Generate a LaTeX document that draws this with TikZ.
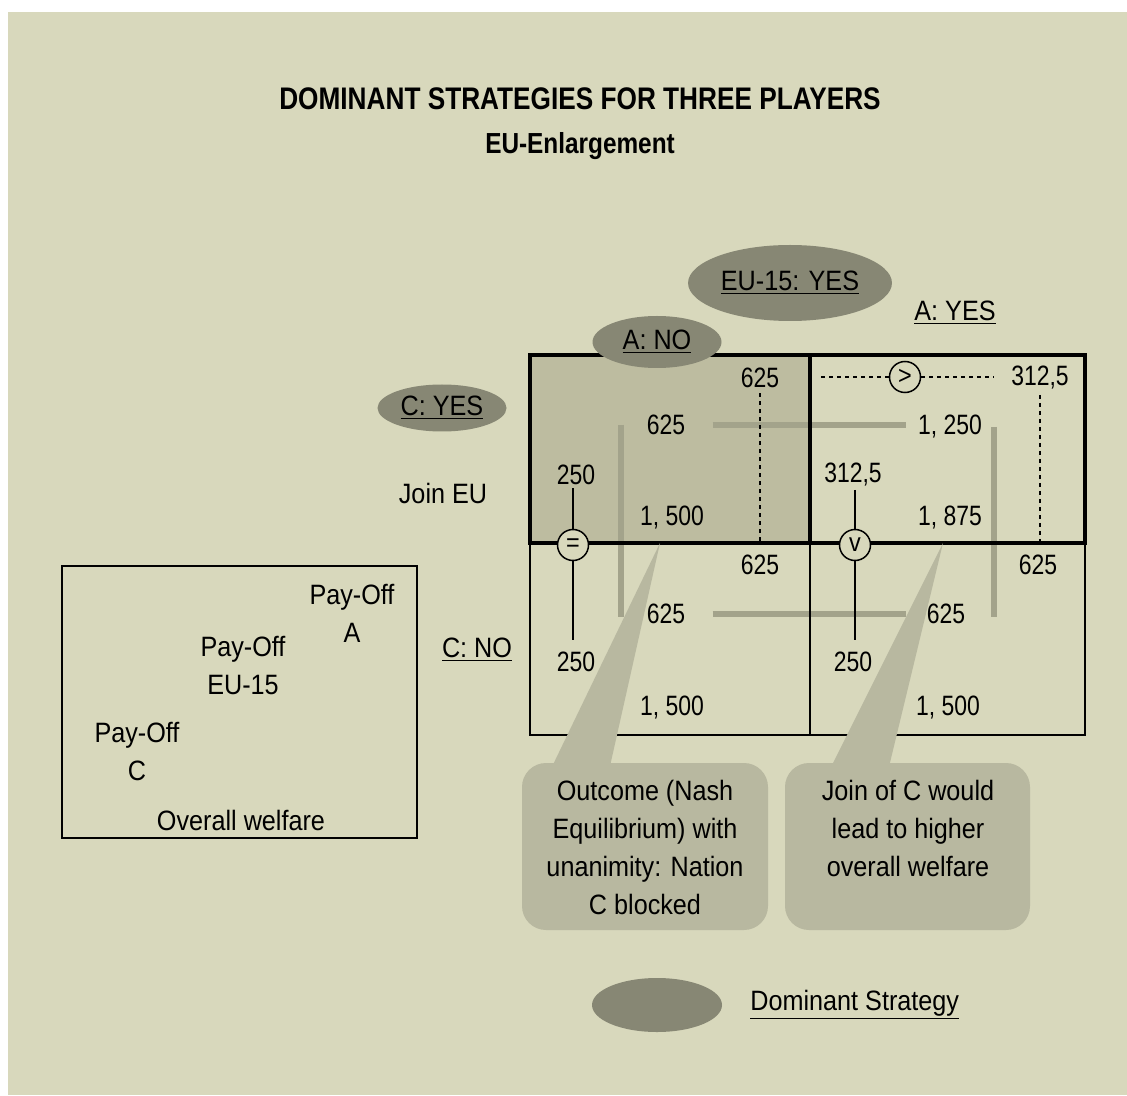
\documentclass[tikz,border=0pt]{standalone}
\usepackage{fontspec}
\setmainfont{Liberation Sans}[FakeStretch=0.9]
\newfontfamily\numfont{Liberation Sans}[FakeStretch=0.82]
\newfontfamily\headfont{Liberation Sans}[FakeStretch=0.84]
\usetikzlibrary{shapes.geometric,positioning}
\definecolor{bgbeige}{HTML}{D8D8BC}
\definecolor{cellgrey}{HTML}{BDBCA0}
\definecolor{domgrey}{HTML}{878774}
\definecolor{notegrey}{HTML}{B8B8A0}
\definecolor{paygrey}{HTML}{A3A38B}
\tikzset{
  num/.style={font=\numfont\fontsize{14}{17}\selectfont, inner sep=1.5pt},
  txt/.style={font=\fontsize{14}{19}\selectfont, align=center, inner sep=1.5pt},
  dom/.style={ellipse, fill=domgrey, inner sep=0pt, txt},
  notebox/.style={rounded corners=12pt, fill=notegrey, inner sep=0pt},
  pay/.style={line width=3pt, draw=paygrey},
  gridline/.style={line width=0.8pt},
  gridbold/.style={line width=2.2pt},
  cmp/.style={circle, draw, line width=0.75pt, fill=bgbeige, minimum size=15.5pt,
              inner sep=0pt, font=\fontsize{13}{13}\selectfont},
  guide/.style={dash pattern=on 2pt off 2pt, line width=0.75pt},
  cline/.style={line width=0.75pt},
}

\begin{document}
\begin{tikzpicture}[x=0.5pt, y=-0.5pt]
  \useasboundingbox (0,0) rectangle (1127,1095);
  \fill[white] (0,0) rectangle (1127,1095);
  \fill[bgbeige] (8,12) rectangle (1127,1095);

  % title
  \node[font=\headfont\bfseries\fontsize{15.6}{18}\selectfont] (title) at (580,99) {DOMINANT STRATEGIES FOR THREE PLAYERS};
  \node[font=\headfont\bfseries\fontsize{14.5}{17}\selectfont] (sub) at (580,146) {EU-Enlargement};

  % matrix
  \coordinate (mtl) at (530,355);
  \coordinate (mid) at (810,543);
  \coordinate (mbr) at (1085,735);
  \fill[cellgrey] (mtl) rectangle (mid);

  % cell values
  \node[num] (tlA) at (760,378) {625};
  \node[num] (tlE) at (666,425) {625};
  \node[num] (tlC) at (576,475) {250};
  \node[num] (tlW) at (672,518) {1, 500};
  \node[num] (trA) at (1040,378) {312,5};
  \node[num] (trE) at (950,427) {1, 250};
  \node[num] (trC) at (853,475) {312,5};
  \node[num] (trW) at (950,518) {1, 875};
  \node[num] (blA) at (760,565) {625};
  \node[num] (blE) at (666,614) {625};
  \node[num] (blC) at (576,662) {250};
  \node[num] (blW) at (672,708) {1, 500};
  \node[num] (brA) at (1038,565) {625};
  \node[num] (brE) at (946,614) {625};
  \node[num] (brC) at (853,662) {250};
  \node[num] (brW) at (948,708) {1, 500};

  % pay-off comparisons EU-15
  \draw[pay, shorten <=12pt, shorten >=4.5pt] (tlE.east) -- (tlE.east -| trE.west);
  \draw[pay, shorten <=12pt, shorten >=8.5pt] (blE.east) -- (brE.west);
  \draw[pay] ([xshift=-11pt]tlE.west) -- ([xshift=-11pt,yshift=-1.5pt]blE.west);
  \draw[pay] ([xshift=4.5pt]trE.east) -- ([xshift=4.5pt,yshift=-1.5pt]trE.east |- brE);

  % comparison marks
  \node[cmp] (gtc) at (905,377) {>};
  \draw[guide, shorten <=1pt] (tlA.south) -- (tlA.south |- mid);
  \draw[guide, shorten <=1pt] (trA.south) -- (trA.south |- mid);
  \draw[guide, shorten >=4pt] (gtc.west) -- (gtc.west -| mid);
  \draw[guide, shorten >=7pt] (gtc.east) -- (trA.west |- gtc);

  % grid
  \draw[gridline] (mtl |- mid) -- (mtl |- mbr) -- (mbr) -- (mbr |- mid);
  \draw[gridline] (mid) -- (mid |- mbr);
  \draw[gridbold] (mtl) rectangle (mbr |- mid);
  \draw[gridbold] (mid |- mtl) -- (mid);

  % notes
  \node[notebox, minimum width=123pt, minimum height=83.5pt] (nleft) at (645,846.5) {};
  \node[notebox, minimum width=122.5pt, minimum height=83.5pt] (nright) at (907.5,846.5) {};
  \fill[notegrey] (660,543) -- (548,775) -- (608,775) -- cycle;
  \fill[notegrey] (943,543) -- (827,775) -- (887,775) -- cycle;
  \node[txt] (nltext) at (645,847) {Outcome (Nash\\Equilibrium) with\\unanimity: Nation\\C blocked};
  \node[txt] (nrtext) at (908,828) {Join of C would\\lead to higher\\overall welfare};

  % pay-off C comparisons
  \node[cmp] (eqc) at (573,545) {=};
  \node[cmp] (orc) at (855,545) {v};
  \draw[cline] (eqc |- tlC.south) -- (eqc);
  \draw[cline, shorten >=4.5pt] (eqc) -- (eqc |- blC.north);
  \draw[cline] (orc |- trC.south) -- (orc);
  \draw[cline, shorten >=4.5pt] (orc) -- (orc |- brC.north);

  % strategies
  \node[dom, minimum width=93pt, minimum height=38pt] (euyes) at (790,283) {\underline{EU-15: YES}};
  \node[dom, minimum width=64.5pt, minimum height=26pt] (ano) at (657,342) {\underline{A: NO}};
  \node[txt] (ayes) at (955,313) {\underline{A: YES}};
  \node[dom, minimum width=64.5pt, minimum height=23.5pt] (cyes) at (442,408) {\underline{C: YES}};
  \node[txt] (join) at (443,493) {Join EU};
  \node[txt] (cno) at (477,650) {\underline{C: NO}};

  % key
  \node[draw, gridline, minimum width=177.5pt, minimum height=136pt] (key) at (239.5,702) {};
  \node[txt] (keyA) at (352,613) {Pay-Off\\A};
  \node[txt] (keyE) at (243,665.5) {Pay-Off\\EU-15};
  \node[txt] (keyC) at (137,751) {Pay-Off\\C};
  \node[txt] (keyW) at (241,820) {Overall welfare};

  % legend
  \node[dom, minimum width=65pt, minimum height=27pt] (legdom) at (657,1005) {};
  \node[txt, anchor=west] (legtxt) at (747,1005) {\underline{Dominant Strategy}};
\end{tikzpicture}
\end{document}
